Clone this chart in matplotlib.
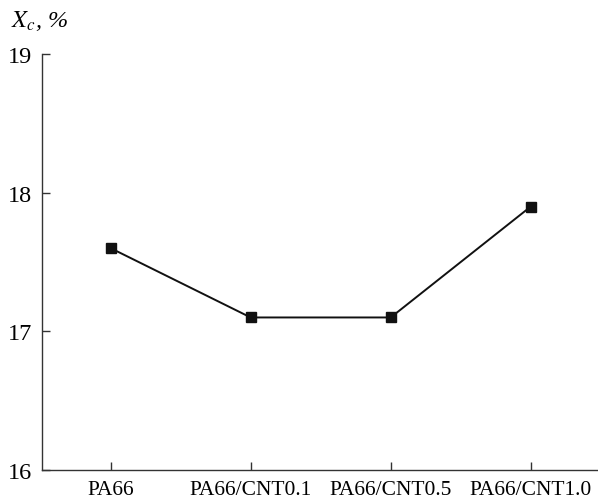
import matplotlib
matplotlib.use("Agg")
import matplotlib.pyplot as plt

# crystallinity of the samples
samples = ["PA66", "PA66/CNT0.1", "PA66/CNT0.5", "PA66/CNT1.0"]
xc = [17.6, 17.1, 17.1, 17.9]
yticks = [16, 17, 18, 19]

plt.rcParams['font.family'] = 'serif'
plt.rcParams['font.serif'] = ['Liberation Serif', 'DejaVu Serif']
plt.rcParams['mathtext.fontset'] = 'stix'

fig = plt.figure(figsize=(5.98, 5.02), dpi=100)
ax = fig.add_axes([0.0702, 0.0618, 0.9298, 0.8286])

pos = list(range(len(samples)))
ax.plot(pos, xc, '-s', color='#111111', linewidth=1.4, markersize=6.5)

ax.set_xlim(-0.49, 3.48)
ax.set_ylim(16, 19)
ax.set_xticks(pos)
ax.set_xticklabels(samples, fontsize=15.5)
ax.set_yticks(yticks)
ax.set_yticklabels([str(t) for t in yticks], fontsize=17.5)

for s in ['top', 'right']:
    ax.spines[s].set_visible(False)
for s in ['left', 'bottom']:
    ax.spines[s].set_linewidth(1.0)
    ax.spines[s].set_color('#333333')
ax.tick_params(direction='in', length=6, width=1.0, color='#333333')
ax.tick_params(axis='x', pad=7)
ax.tick_params(axis='y', pad=7)

fig.text(0.018, 0.958, r"$X_c$, %", fontsize=17.5, style='italic', va='center')

fig.savefig("out.png", dpi=100)
